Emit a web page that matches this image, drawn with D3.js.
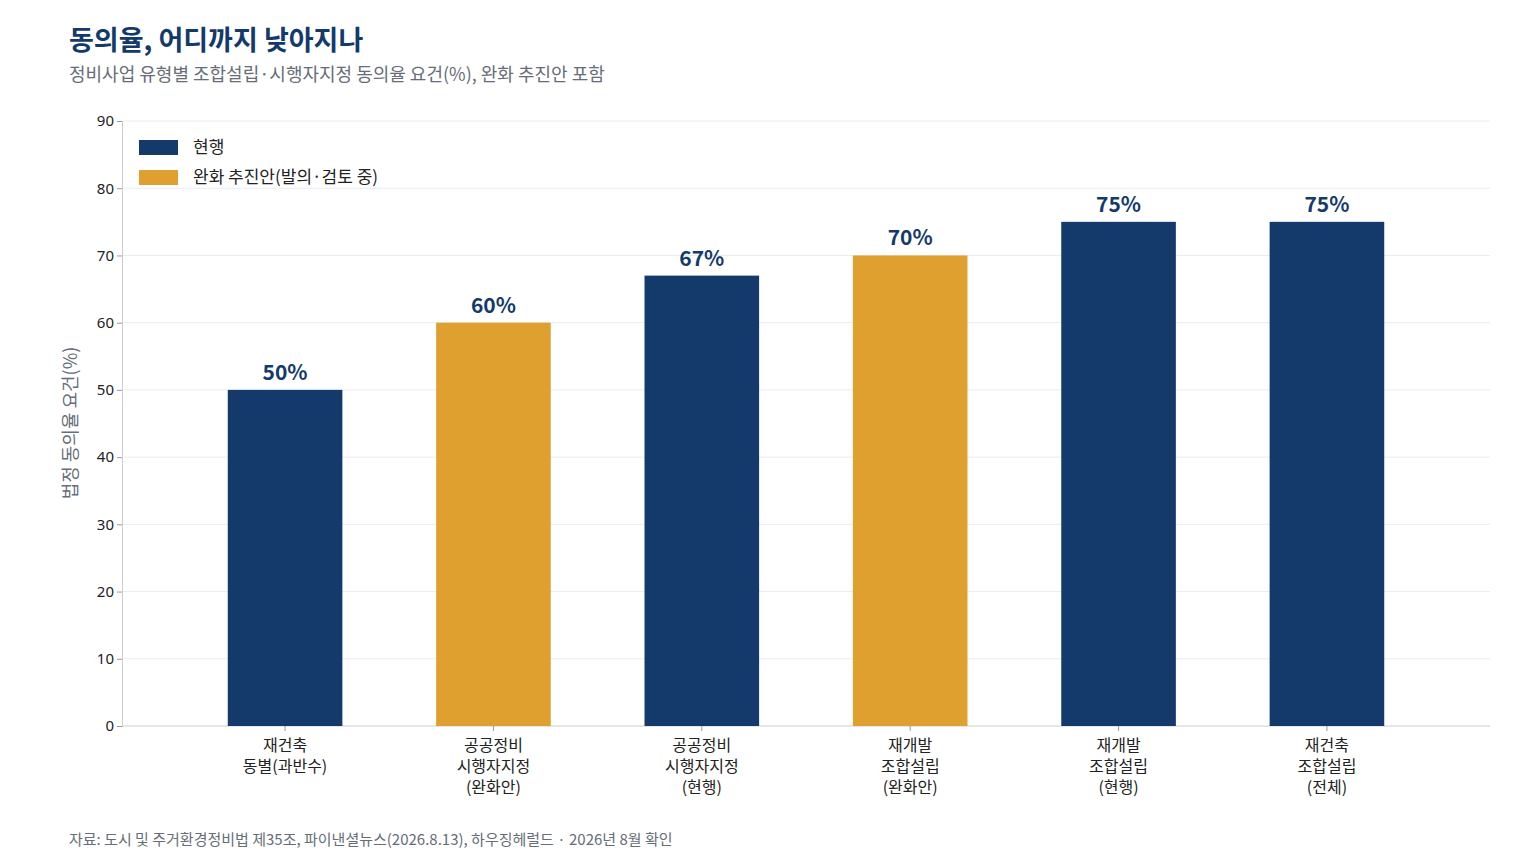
<!DOCTYPE html>
<html><head><meta charset="utf-8">
<script src="https://cdn.jsdelivr.net/npm/d3@7"></script>
<style>body{margin:0;background:#fff;font-family:"Noto Sans CJK KR","Noto Sans",sans-serif;}</style>
</head><body><svg id="c" width="1536" height="864"></svg>
<script>
// 데이터
const categories = [["재건축","동별(과반수)"],["공공정비","시행자지정","(완화안)"],["공공정비","시행자지정","(현행)"],["재개발","조합설립","(완화안)"],["재개발","조합설립","(현행)"],["재건축","조합설립","(전체)"]];
const values = [50, 60, 67, 70, 75, 75];
const kinds = ["현행","완화","현행","완화","현행","현행"];
const yTicks = [0,10,20,30,40,50,60,70,80,90];
const legendLabels = ["현행","완화 추진안(발의·검토 중)"];

const navy = "#143a6b", gold = "#dfa030";
const svg = d3.select("#c");
const x = d3.scaleBand().domain(d3.range(values.length)).range([134,1478]).padding(0.45);
const y = d3.scaleLinear().domain([0,90]).range([726,121]);

svg.append("text").attr("x",69).attr("y",50).attr("font-size",27).attr("font-weight",700).attr("fill",navy).text("동의율, 어디까지 낮아지나");
svg.append("text").attr("x",69).attr("y",81).attr("font-size",18).attr("fill","#666d78").text("정비사업 유형별 조합설립·시행자지정 동의율 요건(%), 완화 추진안 포함");

// 격자
svg.selectAll("line.g").data(yTicks.slice(1)).enter().append("line")
  .attr("x1",122).attr("x2",1490).attr("y1",d=>y(d)).attr("y2",d=>y(d)).attr("stroke","#e8ecf2");

const ya = svg.append("g").attr("transform","translate(122,0)").call(d3.axisLeft(y).tickValues(yTicks).tickSize(5));
ya.selectAll("text").attr("font-size",15).attr("fill","#222").attr("font-family","Noto Sans");
ya.select(".domain").attr("stroke","#ccc"); ya.selectAll(".tick line").attr("stroke","#999");

svg.append("line").attr("x1",122).attr("x2",1490).attr("y1",726).attr("y2",726).attr("stroke","#ccc");
svg.append("text").attr("transform","translate(77,423) rotate(-90)").attr("text-anchor","middle").attr("font-size",18).attr("fill","#666d78").text("법정 동의율 요건(%)");

svg.selectAll("rect.b").data(values).enter().append("rect")
  .attr("x",(d,i)=>x(i)).attr("width",x.bandwidth()).attr("y",d=>y(d)).attr("height",d=>726-y(d))
  .attr("fill",(d,i)=>kinds[i]==="현행"?navy:gold);
svg.selectAll("text.v").data(values).enter().append("text")
  .attr("x",(d,i)=>x(i)+x.bandwidth()/2).attr("y",d=>y(d)-10).attr("text-anchor","middle")
  .attr("font-size",21).attr("font-weight",700).attr("fill",navy).text(d=>d+"%");

categories.forEach((lines,i)=>{
  const cx = x(i)+x.bandwidth()/2;
  svg.append("line").attr("x1",cx).attr("x2",cx).attr("y1",726).attr("y2",731).attr("stroke","#999");
  const t = svg.append("text").attr("x",cx).attr("y",751).attr("text-anchor","middle").attr("font-size",16).attr("fill","#222");
  lines.forEach((l,j)=>t.append("tspan").attr("x",cx).attr("dy",j?21:0).text(l));
});

legendLabels.forEach((l,i)=>{
  svg.append("rect").attr("x",139).attr("y",140+i*30).attr("width",39).attr("height",15).attr("fill",i?gold:navy);
  svg.append("text").attr("x",193).attr("y",153+i*30).attr("font-size",17).attr("fill","#222").text(l);
});

svg.append("text").attr("x",69).attr("y",845).attr("font-size",15).attr("fill","#666d78").text("자료: 도시 및 주거환경정비법 제35조, 파이낸셜뉴스(2026.8.13), 하우징헤럴드 · 2026년 8월 확인");
</script></body></html>
